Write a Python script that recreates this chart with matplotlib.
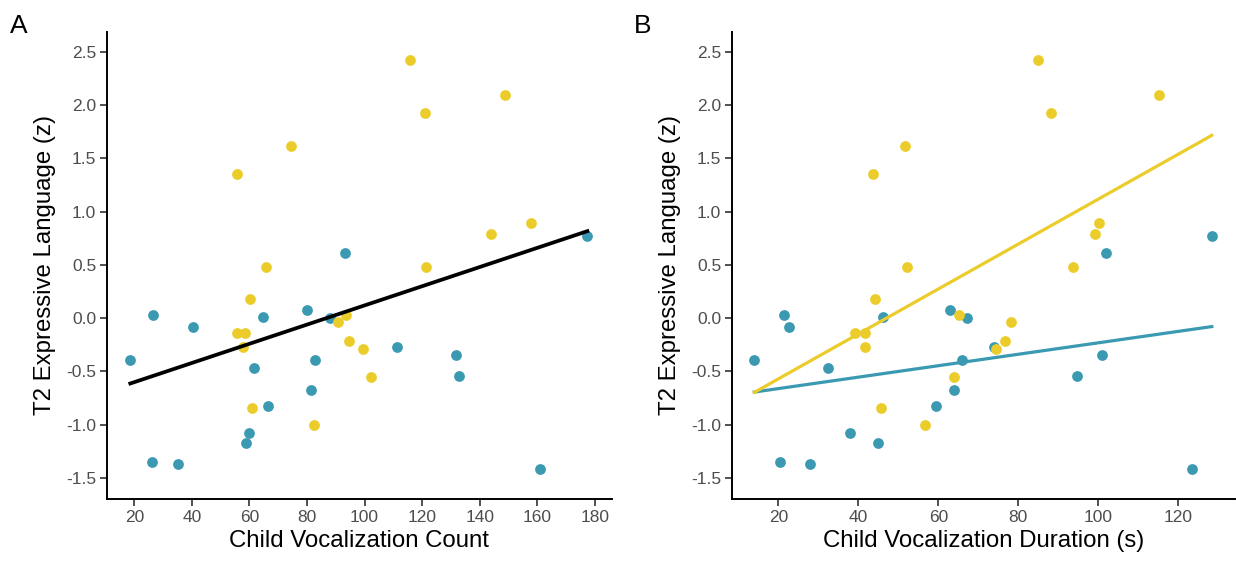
import matplotlib

matplotlib.use("Agg")
import matplotlib.pyplot as plt
import numpy as np

plt.rcParams["font.family"] = ["Liberation Sans", "DejaVu Sans"]

TEAL = "#3B9AB2"
YELLOW = "#EBCC2A"

# yellow group: count, duration (s), T2 expressive language (z)
yellow_count = [115.7, 148.8, 120.9, 74.3, 55.7, 157.8, 144.0, 65.6, 121.2, 60.2,
                93.5, 90.7, 55.8, 58.5, 57.6, 94.5, 99.4, 102.3, 60.9, 82.4]
yellow_dur = [84.9, 115.3, 88.2, 51.8, 43.6, 100.1, 99.2, 52.3, 93.8, 44.3,
              65.1, 78.3, 39.2, 41.8, 41.8, 76.6, 74.4, 63.9, 45.6, 56.7]
yellow_z = [2.42, 2.10, 1.93, 1.62, 1.35, 0.89, 0.79, 0.48, 0.48, 0.18,
            0.03, -0.04, -0.14, -0.14, -0.27, -0.21, -0.29, -0.55, -0.84, -1.00]

# teal group
teal_count = [177.4, 93.1, 26.6, 40.4, 64.7, 79.9, 88.0, 111.3, 131.8, 132.7,
              18.6, 82.8, 61.5, 81.5, 66.4, 59.7, 58.8, 26.0, 35.3, 161.1]
teal_dur = [128.4, 101.9, 21.3, 22.6, 46.2, 62.9, 67.1, 73.9, 101.0, 94.6,
            14.0, 65.9, 32.5, 64.0, 59.5, 37.8, 44.9, 20.3, 27.9, 123.5]
teal_z = [0.77, 0.61, 0.03, -0.08, 0.015, 0.075, 0.006, -0.27, -0.35, -0.54,
          -0.39, -0.39, -0.47, -0.67, -0.82, -1.08, -1.17, -1.35, -1.37, -1.42]

y_ticks = [-1.5, -1.0, -0.5, 0.0, 0.5, 1.0, 1.5, 2.0, 2.5]
count_ticks = [20, 40, 60, 80, 100, 120, 140, 160, 180]
dur_ticks = [20, 40, 60, 80, 100, 120]


def fit_line(x, y, x_range):
    slope, icpt = np.polyfit(x, y, 1)
    xs = np.array(x_range)
    return xs, slope * xs + icpt


def style_axes(ax, xticks, xlabel):
    for side in ("top", "right"):
        ax.spines[side].set_visible(False)
    for side in ("left", "bottom"):
        ax.spines[side].set_linewidth(1.4)
        ax.spines[side].set_color("black")
    ax.set_xticks(xticks)
    ax.set_yticks(y_ticks)
    ax.set_yticklabels([f"{v:.1f}" for v in y_ticks])
    ax.tick_params(axis="both", length=5, width=1.2, pad=3,
                   labelsize=12.5, labelcolor="#4D4D4D", color="#333333")
    ax.set_xlabel(xlabel, fontsize=17.3, labelpad=3)
    ax.set_ylabel("T2 Expressive Language (z)", fontsize=17.3, labelpad=7)
    ax.set_ylim(-1.70, 2.69)


fig = plt.figure(figsize=(12.36, 5.65), dpi=100)
ax1 = fig.add_axes([0.0868, 0.1163, 0.408, 0.8276])
ax2 = fig.add_axes([0.5925, 0.1163, 0.4067, 0.8276])

# panel A: count, single fit over everyone
ax1.scatter(teal_count, teal_z, s=60, color=TEAL, linewidths=0, zorder=2)
ax1.scatter(yellow_count, yellow_z, s=60, color=YELLOW, linewidths=0, zorder=2)
all_count = teal_count + yellow_count
all_z = teal_z + yellow_z
xs, ys = fit_line(all_count, all_z, [min(all_count), max(all_count)])
ax1.plot(xs, ys, color="black", linewidth=2.7, zorder=3)
ax1.set_xlim(10.6, 185.8)
style_axes(ax1, count_ticks, "Child Vocalization Count")

# panel B: duration, one fit per group across the full range
ax2.scatter(teal_dur, teal_z, s=60, color=TEAL, linewidths=0, zorder=2)
ax2.scatter(yellow_dur, yellow_z, s=60, color=YELLOW, linewidths=0, zorder=2)
all_dur = teal_dur + yellow_dur
rng = [min(all_dur), max(all_dur)]
xs, ys = fit_line(teal_dur, teal_z, rng)
ax2.plot(xs, ys, color=TEAL, linewidth=2.3, zorder=3)
xs, ys = fit_line(yellow_dur, yellow_z, rng)
ax2.plot(xs, ys, color=YELLOW, linewidth=2.3, zorder=4)
ax2.set_xlim(8.5, 134.2)
style_axes(ax2, dur_ticks, "Child Vocalization Duration (s)")

fig.text(0.008, 0.975, "A", fontsize=19, va="top", ha="left")
fig.text(0.513, 0.975, "B", fontsize=19, va="top", ha="left")

fig.savefig("out.png", dpi=100)
